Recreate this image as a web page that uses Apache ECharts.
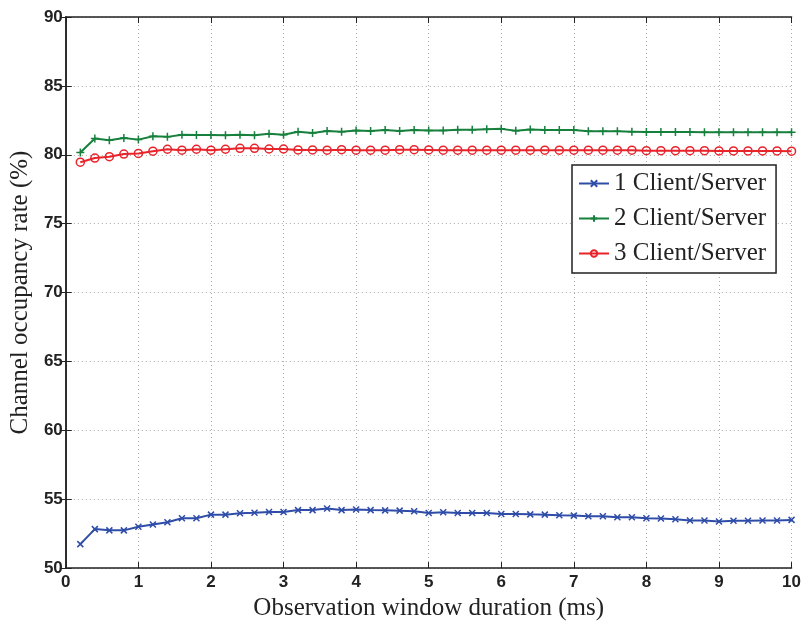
<!DOCTYPE html>
<html>
<head>
<meta charset="utf-8">
<script src="https://cdn.jsdelivr.net/npm/echarts@6/dist/echarts.min.js"></script>
<style>html,body{margin:0;padding:0;background:#fff}#c{width:804px;height:626px}</style>
</head>
<body>
<div id="c"></div>
<script>
const xValues = [0.2,0.4,0.6,0.8,1.0,1.2,1.4,1.6,1.8,2.0,2.2,2.4,2.6,2.8,3.0,3.2,3.4,3.6,3.8,4.0,4.2,4.4,4.6,4.8,5.0,5.2,5.4,5.6,5.8,6.0,6.2,6.4,6.6,6.8,7.0,7.2,7.4,7.6,7.8,8.0,8.2,8.4,8.6,8.8,9.0,9.2,9.4,9.6,9.8,10.0];
const series1Name = '1 Client/Server';
const series2Name = '2 Client/Server';
const series3Name = '3 Client/Server';
const series1 = [51.74,52.83,52.74,52.74,53.0,53.17,53.33,53.62,53.62,53.88,53.88,53.98,54.02,54.07,54.07,54.21,54.21,54.33,54.21,54.26,54.21,54.19,54.17,54.12,54.0,54.05,54.0,54.0,54.0,53.93,53.93,53.9,53.88,53.83,53.81,53.76,53.76,53.69,53.69,53.62,53.6,53.55,53.45,53.45,53.38,53.43,53.43,53.45,53.45,53.5];
const series2 = [80.16,81.18,81.06,81.22,81.1,81.34,81.3,81.46,81.44,81.44,81.41,81.46,81.41,81.53,81.46,81.67,81.58,81.72,81.67,81.77,81.72,81.79,81.72,81.79,81.77,81.77,81.82,81.82,81.86,81.88,81.74,81.84,81.79,81.79,81.79,81.7,81.7,81.7,81.68,81.65,81.65,81.65,81.65,81.64,81.64,81.64,81.63,81.63,81.63,81.63];
const series3 = [79.46,79.76,79.86,80.05,80.1,80.26,80.4,80.33,80.4,80.33,80.4,80.47,80.47,80.42,80.42,80.35,80.35,80.33,80.37,80.33,80.33,80.33,80.37,80.37,80.35,80.33,80.33,80.33,80.33,80.33,80.33,80.33,80.33,80.33,80.33,80.33,80.33,80.33,80.33,80.3,80.3,80.3,80.3,80.3,80.28,80.28,80.28,80.28,80.28,80.26];
const xTicks = {min: 0, max: 10, interval: 1};
const yTicks = {min: 50, max: 90, interval: 5};

const blue = '#2F4DA8', green = '#16803C', red = '#E8232A';
const tickLabel = {fontFamily: 'Liberation Sans, Arial, sans-serif', fontWeight: 'bold', fontSize: 17, color: '#222'};
const serif = 'Liberation Serif, Times New Roman, serif';
const gridLine = {show: true, lineStyle: {color: '#a8a8a8', type: [1, 3], width: 1}};
const axisLine = {show: true, lineStyle: {color: '#222', width: 1.5}};

function pairs(ys) { return xValues.map((x, i) => [x, ys[i]]); }

const chart = echarts.init(document.getElementById('c'), null, {renderer: 'canvas'});
chart.setOption({
  animation: false,
  backgroundColor: '#fff',
  grid: {left: 63, right: 11, top: 17, bottom: 49, containLabel: false},
  legend: {
    orient: 'vertical', left: 572, top: 165,
    backgroundColor: '#fff', borderColor: '#222', borderWidth: 1.5,
    padding: [6, 10, 7, 6], itemGap: 10, itemWidth: 30, itemHeight: 8,
    textStyle: {fontFamily: serif, fontSize: 25, color: '#222'},
    data: [series1Name, series2Name, series3Name]
  },
  xAxis: [{
    type: 'value', min: xTicks.min, max: xTicks.max, interval: xTicks.interval,
    name: 'Observation window duration (ms)', nameLocation: 'middle', nameGap: 21,
    nameTextStyle: {fontFamily: serif, fontSize: 25, color: '#222'},
    axisLine: axisLine, axisTick: {show: true, inside: true, length: 6, lineStyle: {color: '#222'}},
    axisLabel: Object.assign({margin: 6}, tickLabel), splitLine: gridLine
  }, {
    type: 'value', position: 'top', min: xTicks.min, max: xTicks.max, interval: xTicks.interval,
    axisLine: axisLine, axisTick: {show: true, inside: true, length: 6, lineStyle: {color: '#222'}},
    axisLabel: {show: false}, splitLine: {show: false}
  }],
  yAxis: [{
    type: 'value', min: yTicks.min, max: yTicks.max, interval: yTicks.interval,
    name: 'Channel occupancy rate (%)', nameLocation: 'middle', nameGap: 27, nameRotate: 90,
    nameTextStyle: {fontFamily: serif, fontSize: 25, color: '#222'},
    axisLine: axisLine, axisTick: {show: true, inside: true, length: 6, lineStyle: {color: '#222'}},
    axisLabel: Object.assign({margin: 3}, tickLabel), splitLine: gridLine
  }, {
    type: 'value', position: 'right', min: yTicks.min, max: yTicks.max, interval: yTicks.interval,
    axisLine: axisLine, axisTick: {show: true, inside: true, length: 6, lineStyle: {color: '#222'}},
    axisLabel: {show: false}, splitLine: {show: false}
  }],
  series: [{
    name: series1Name, type: 'line', data: pairs(series1),
    symbol: 'path://M0,0L10,10M10,0L0,10', symbolSize: 6, showAllSymbol: true,
    lineStyle: {color: blue, width: 2}, itemStyle: {color: blue, borderColor: blue, borderWidth: 1.5}
  }, {
    name: series2Name, type: 'line', data: pairs(series2),
    symbol: 'path://M5,0L5,10M0,5L10,5', symbolSize: 8, showAllSymbol: true,
    lineStyle: {color: green, width: 2}, itemStyle: {color: green, borderColor: green, borderWidth: 1.5}
  }, {
    name: series3Name, type: 'line', data: pairs(series3),
    symbol: 'circle', symbolSize: 8, showAllSymbol: true,
    lineStyle: {color: red, width: 2}, itemStyle: {color: 'rgba(255,255,255,0)', borderColor: red, borderWidth: 1.5}
  }]
});
</script>
</body>
</html>
